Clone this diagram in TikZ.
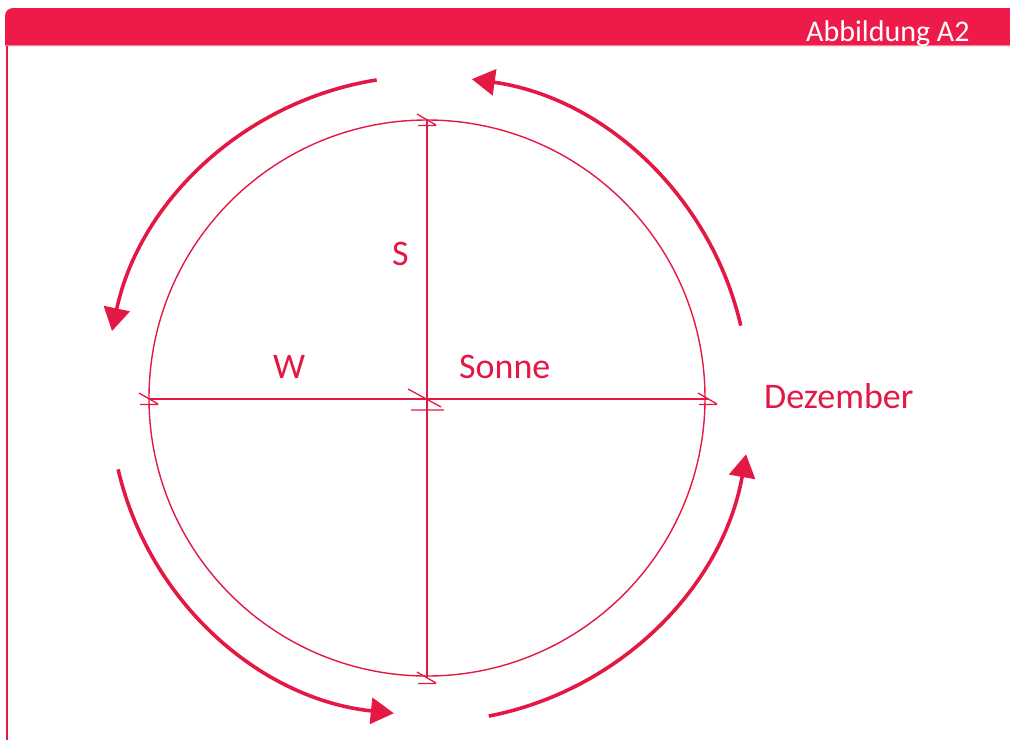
\documentclass[tikz,border=0pt]{standalone}
\usepackage{fontspec}
\setmainfont{Carlito}
\usetikzlibrary{arrows.meta,calc}
\definecolor{hdr}{RGB}{238,26,74}
\definecolor{ink}{RGB}{228,24,68}
\definecolor{hdrline}{RGB}{246,130,158}
\begin{document}
\begin{tikzpicture}[x=1pt,y=1pt,
  geo/.style={draw=ink, line width=1.4pt},
  tickmark/.style={draw=ink, line width=1.3pt},
  orbit/.style={draw=ink, line width=3.6pt, -{Triangle[length=23pt,width=26pt]}},
  lbl/.style={text=ink, font=\fontsize{36}{43}\selectfont, inner sep=0pt, anchor=base west},
  tk/.pic={\draw[tickmark] (-10,6) -- (9,-5) (-9,-5.5) -- (9,-5.5);},
  tkbig/.pic={\draw[tickmark] (-19,10) -- (14,-8) (-16,-11) -- (17,-11);}]
\useasboundingbox (0,0) rectangle (1010,-740);
% frame and header
\fill[hdr] (5,-46) -- (5,-16) arc[start angle=180,end angle=90,radius=8] -- (1010,-8) -- (1010,-46) -- cycle;
\draw[hdrline, line width=1pt] (5,-45.5) -- (1010,-45.5);
\draw[ink, line width=2pt] (7,-46) -- (7,-740);
\node[anchor=base west, text=white, font=\fontsize{30}{36}\selectfont, inner sep=0pt] (title) at (806,-41) {Abbildung A2};
% circle
\coordinate (C) at (427,-398);
\node[circle, geo, minimum size=556pt, inner sep=0pt] (sun) at (C) {};
% axes
\coordinate (L) at (149,-399);
\coordinate (R) at (708,-399);
\coordinate (T) at (427,-120);
\coordinate (B) at (427,-678);
\coordinate (O) at (427,-399);
\draw[geo] (L) -- (R);
\draw[geo] (T) -- (B);
\pic at (L) {tk};
\pic at (R) {tk};
\pic at (T) {tk};
\pic at (B) {tk};
\pic at (O) {tkbig};
% orbit arrows
\coordinate (a1) at ($(C)+(99:322)$);
\coordinate (a2) at ($(C)+(13:322)$);
\coordinate (a3) at ($(C)+(193:317)$);
\coordinate (a4) at ($(C)+(281:324)$);
\draw[orbit] (a1) arc[start angle=99, end angle=168, radius=322];
\draw[orbit] (a2) arc[start angle=13, end angle=82, radius=322];
\draw[orbit] (a3) arc[start angle=193, end angle=264, radius=317];
\draw[orbit] (a4) arc[start angle=281, end angle=350, radius=324];
% labels
\node[lbl] (s) at (392,-265) {S};
\node[lbl] (w) at (273,-378) {W};
\node[lbl] (sonne) at (459,-378) {Sonne};
\node[lbl] (dez) at (764,-408) {Dezember};
\end{tikzpicture}
\end{document}
